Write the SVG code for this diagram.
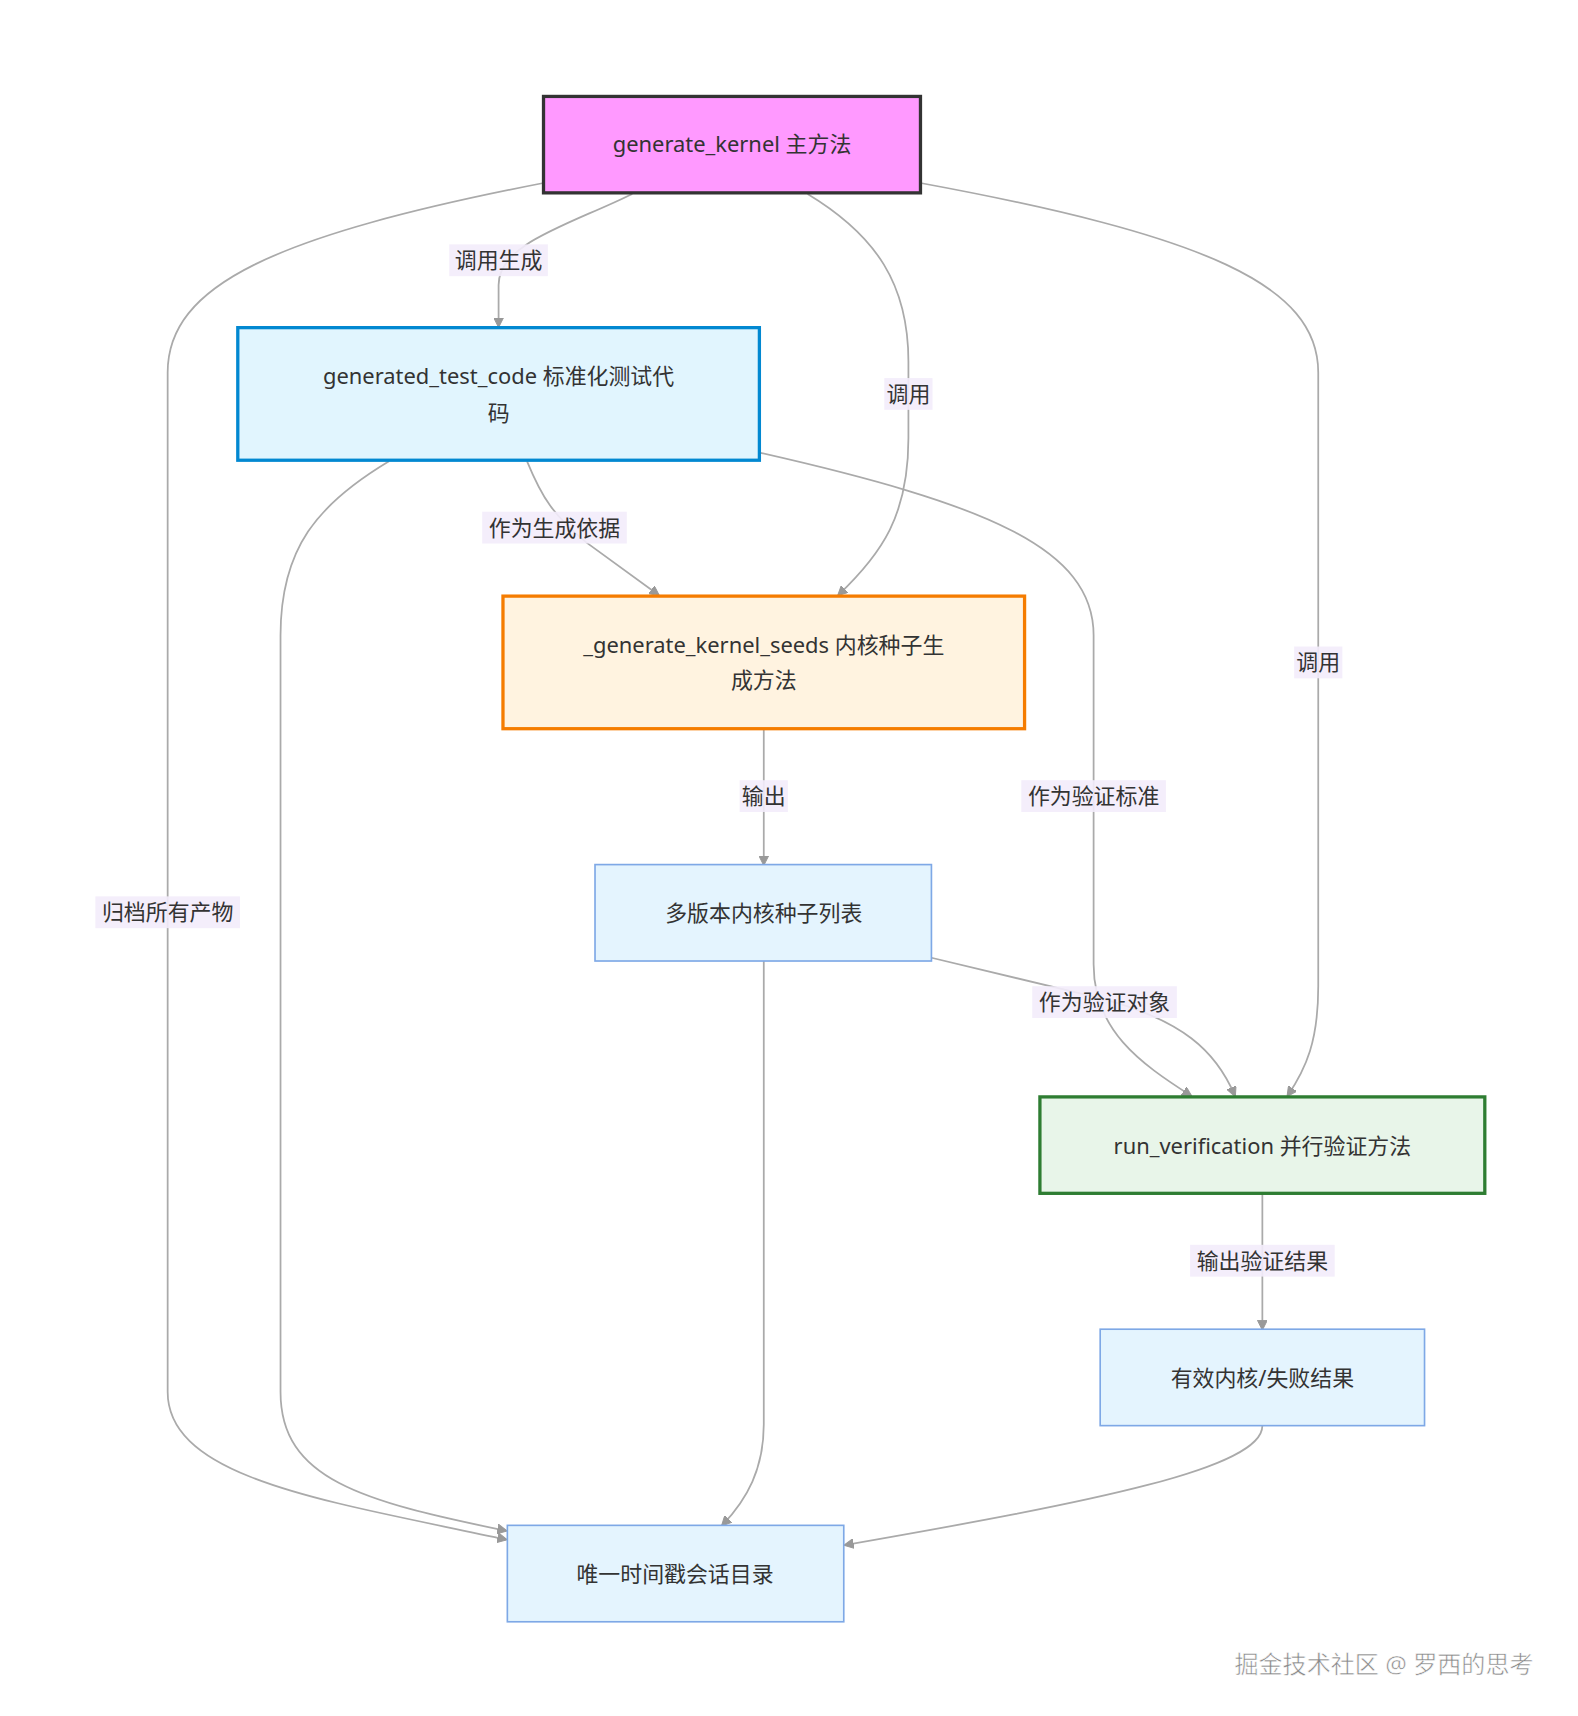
<svg xmlns="http://www.w3.org/2000/svg" width="1578" height="1716" viewBox="0 0 1578 1716">
<style>
text{font-family:"Noto Sans","Noto Sans CJK SC",sans-serif;font-size:20px;fill:#333;text-anchor:middle;dominant-baseline:central}
.e{fill:none;stroke:#aaa;stroke-width:1.6}
.lb{fill:#f3ecfb;opacity:0.9}
.n2{fill:#e4f4fe;stroke:#7ea8e6;stroke-width:1.5}
.wm{fill:#888;font-size:22px;stroke:#fff;stroke-width:0.5}
</style>
<defs>
<marker id="ah" viewBox="0 0 10 10" refX="9" refY="5" markerWidth="9" markerHeight="9" orient="auto" markerUnits="userSpaceOnUse">
<path d="M0,0 L10,5 L0,10 z" fill="#999" stroke="#999"/>
</marker>
</defs>
<rect width="1578" height="1716" fill="#fff"/>
<g transform="scale(1.0958)">
<g id="connectors">
<path class="e" marker-end="url(#ah)" d="M577,177 C520,205 455,222 455,260 L455,298"/>
<path class="e" marker-end="url(#ah)" d="M737,177 C800,215 829,260 829,330 L829,400 C829,470 805,505 765,543"/>
<path class="e" marker-end="url(#ah)" d="M840,167 C1100,215 1203,260 1203,340 L1203,900 C1203,950 1192,975 1175,1000"/>
<path class="e" marker-end="url(#ah)" d="M496,167 C250,215 153,260 153,340 L153,1270 C153,1350 300,1370 462,1405"/>
<path class="e" marker-end="url(#ah)" d="M481,421 C495,455 505,470 535,495 L601,543"/>
<path class="e" marker-end="url(#ah)" d="M693,413 C900,460 998,500 998,580 L998,880 C998,940 1040,970 1087,1000"/>
<path class="e" marker-end="url(#ah)" d="M355,421 C290,460 256,500 256,580 L256,1270 C256,1350 330,1370 462,1397"/>
<path class="e" marker-end="url(#ah)" d="M697,665 L697,789"/>
<path class="e" marker-end="url(#ah)" d="M850,874 L1000,910 C1080,930 1110,960 1127,1000"/>
<path class="e" marker-end="url(#ah)" d="M697,877 L697,1300 C697,1340 682,1368 659,1392"/>
<path class="e" marker-end="url(#ah)" d="M1152,1089 L1152,1213"/>
<path class="e" marker-end="url(#ah)" d="M1152,1301 C1152,1340 1000,1370 771,1410"/>
<rect class="lb" x="410" y="223" width="90" height="29"/><text x="455" y="237">调用生成</text>
<rect class="lb" x="807" y="345" width="44" height="29"/><text x="829" y="359">调用</text>
<rect class="lb" x="1181" y="590" width="44" height="29"/><text x="1203" y="604">调用</text>
<rect class="lb" x="87" y="818" width="132" height="29"/><text x="153" y="832">归档所有产物</text>
<rect class="lb" x="440" y="467" width="132" height="29"/><text x="506" y="481">作为生成依据</text>
<rect class="lb" x="932" y="712" width="132" height="29"/><text x="998" y="726">作为验证标准</text>
<rect class="lb" x="675" y="712" width="44" height="29"/><text x="697" y="726">输出</text>
<rect class="lb" x="942" y="900" width="132" height="29"/><text x="1008" y="914">作为验证对象</text>
<rect class="lb" x="1086" y="1136" width="132" height="29"/><text x="1152" y="1150">输出验证结果</text>
</g>
<g id="nA"><rect x="496" y="88" width="344" height="88" fill="#ff99ff" stroke="#333" stroke-width="3"/><text x="668" y="131">generate_kernel 主方法</text></g>
<g id="nB"><rect x="217" y="299" width="476" height="121" fill="#e1f5fe" stroke="#0288d1" stroke-width="3"/><text x="455" y="343">generated_test_code 标准化测试代</text><text x="455" y="376">码</text></g>
<g id="nC"><rect x="459" y="544" width="476" height="121" fill="#fff3e0" stroke="#f57c00" stroke-width="3"/><text x="697" y="588">_generate_kernel_seeds 内核种子生</text><text x="697" y="620">成方法</text></g>
<g id="nD"><rect class="n2" x="543" y="789" width="307" height="88"/><text x="697" y="833">多版本内核种子列表</text></g>
<g id="nE"><rect x="949" y="1001" width="406" height="88" fill="#e8f5e9" stroke="#2e7d32" stroke-width="3"/><text x="1152" y="1045">run_verification 并行验证方法</text></g>
<g id="nF"><rect class="n2" x="1004" y="1213" width="296" height="88"/><text x="1152" y="1257">有效内核/失败结果</text></g>
<g id="nG"><rect class="n2" x="463" y="1392" width="307" height="88"/><text x="616" y="1436">唯一时间戳会话目录</text></g>
<text class="wm" x="1263" y="1518">掘金技术社区 @ 罗西的思考</text>
</g>
</svg>
